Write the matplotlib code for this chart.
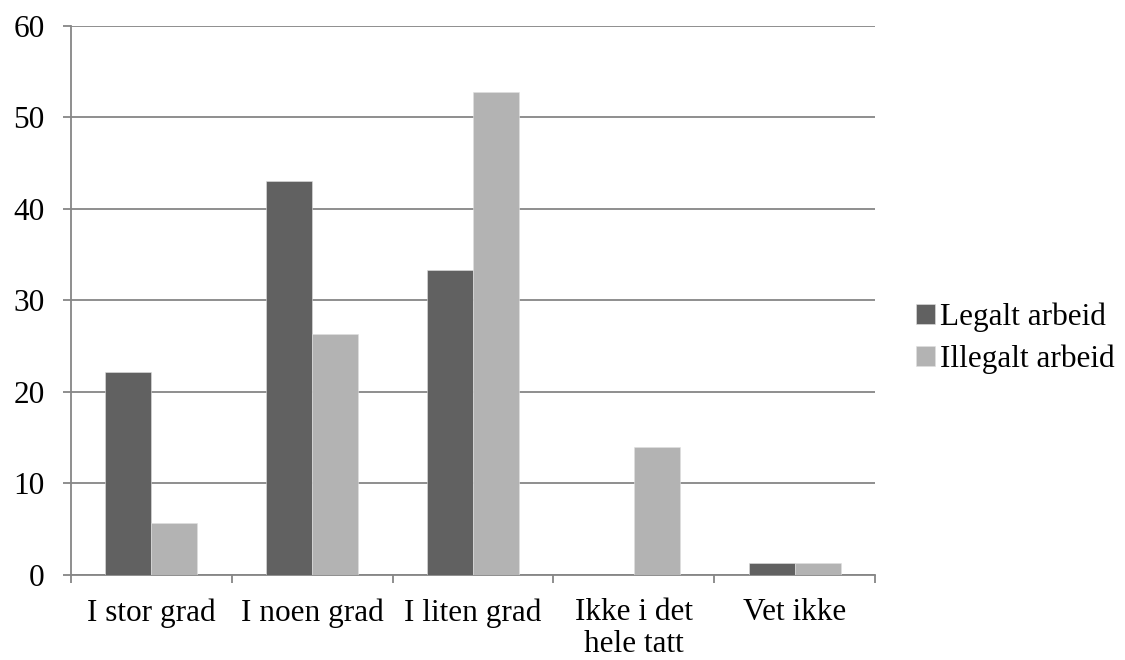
import numpy as np
import matplotlib
matplotlib.use("Agg")
import matplotlib.pyplot as plt

categories = ["I stor grad", "I noen grad", "I liten grad", "Ikke i det\nhele tatt", "Vet ikke"]
legalt = [22.1, 43.1, 33.3, 0.0, 1.3]
illegalt = [5.6, 26.3, 52.8, 13.9, 1.3]
series_names = ["Legalt arbeid", "Illegalt arbeid"]

plt.rcParams["font.family"] = ["Liberation Serif", "DejaVu Serif"]
FS = 22.5
GRAY = "#868686"

fig = plt.figure(figsize=(11.25, 6.6), dpi=100)
ax = fig.add_axes([0.0631, 0.1295, 0.7147, 0.8311])

x = np.arange(len(categories))
w = 1 / 3.5
ax.bar(x - w / 2, legalt, w, color="#616161", edgecolor="#e0e0e0", linewidth=0.4,
       label=series_names[0], zorder=3)
ax.bar(x + w / 2, illegalt, w, color="#b3b3b3", edgecolor="#e0e0e0", linewidth=0.4,
       label=series_names[1], zorder=3)

ax.set_xlim(-0.5, len(categories) - 0.5)
ax.set_ylim(0, 60)
ax.set_yticks(np.arange(0, 61, 10))
ax.yaxis.grid(True, color=GRAY, linewidth=1.3, zorder=0)
ax.set_axisbelow(True)

ax.set_xticks(x)
ax.set_xticklabels(categories, fontsize=FS, linespacing=1.12)
ax.set_xticks(np.arange(-0.5, len(categories), 1), minor=True)
ax.tick_params(axis="x", which="major", length=0, pad=17)
ax.tick_params(axis="x", which="minor", length=6, width=1.3, color=GRAY, direction="out")
ax.tick_params(axis="y", length=6, width=1.3, color=GRAY, labelsize=FS, pad=13)

for s in ["top", "right"]:
    ax.spines[s].set_visible(False)
for s in ["left", "bottom"]:
    ax.spines[s].set_color(GRAY)
    ax.spines[s].set_linewidth(1.3)

fig.legend(loc="center left", bbox_to_anchor=(0.789, 0.488), frameon=False,
           fontsize=FS, handlelength=0.62, handleheight=0.62, handletextpad=0.15,
           labelspacing=0.4)

fig.savefig("out.png", dpi=100)
